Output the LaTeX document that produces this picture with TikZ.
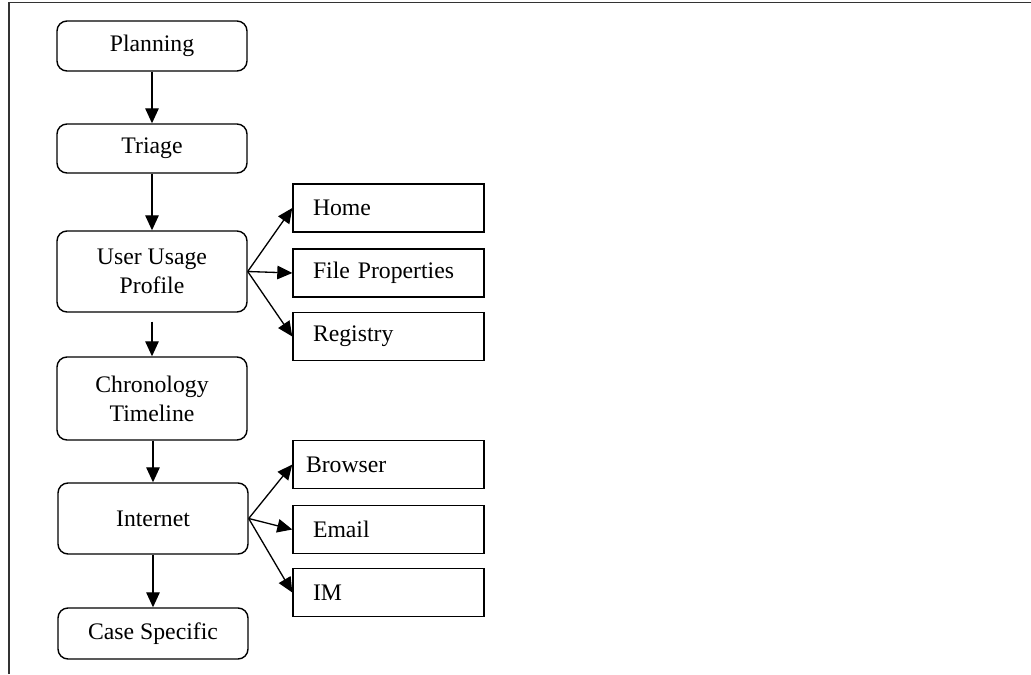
\documentclass[tikz,border=0pt]{standalone}
\usepackage{fontspec}
\setmainfont{Liberation Serif}
\usepackage{tikz}
\usetikzlibrary{arrows.meta, positioning}

\begin{document}
\begin{tikzpicture}[
    stage/.style={draw, line width=0.8pt, rounded corners=0.2cm, align=center,
      minimum width=3.8cm, inner sep=0pt},
    leaf/.style={draw, line width=0.8pt, align=left, text width=3.02cm,
      inner xsep=0.4cm, inner ysep=0pt, minimum height=0.96cm},
    flow/.style={-{Triangle[length=0.3cm,width=0.27cm]}, line width=0.75pt},
    every node/.style={font=\fontsize{13.5pt}{16.5pt}\selectfont}
  ]
  \useasboundingbox (0,0) rectangle (20.62,-13.48);

  % frame
  \draw[line width=0.9pt, black!80] (0.18,-13.48) -- (0.18,-0.05) -- (20.62,-0.05);

  % main stages
  \node[stage, minimum height=1.0cm]  (plan)   at (3.04,-0.92)  {Planning};
  \node[stage, minimum height=0.98cm] (triage) at (3.04,-2.97)  {Triage};
  \node[stage, minimum height=1.62cm] (usage)  at (3.04,-5.43)  {User Usage\\Profile};
  \node[stage, minimum height=1.66cm] (chrono) at (3.04,-7.97)  {Chronology\\Timeline};
  \node[stage, minimum height=1.42cm] (inet)   at (3.06,-10.37) {Internet};
  \node[stage, minimum height=1.02cm] (case)   at (3.06,-12.67) {Case Specific};

  % usage profile sources
  \node[leaf] (home)  at (7.77,-4.16) {Home};
  \node[leaf] (props) at (7.77,-5.46) {File Properties};
  \node[leaf] (reg)   at (7.77,-6.73) {Registry};

  % internet sources
  \node[leaf] (browser) at (7.77,-9.29)  {\hspace*{-0.14cm}Browser};
  \node[leaf] (email)   at (7.77,-10.59) {Email};
  \node[leaf] (im)      at (7.77,-11.85) {IM};

  % flow
  \draw[flow] (plan) -- (triage);
  \draw[flow] (triage) -- (usage);
  \draw[flow, shorten <=0.18cm] (usage) -- (chrono);
  \draw[flow] (chrono.south -| inet.north) -- (inet);
  \draw[flow] (inet) -- (case);

  \draw[flow] (usage.east) -- (home.west);
  \draw[flow] (usage.east) -- (props.west);
  \draw[flow] (usage.east) -- (reg.west);

  \draw[flow] (inet.east) -- (browser.west);
  \draw[flow] (inet.east) -- (email.west);
  \draw[flow] (inet.east) -- (im.west);
\end{tikzpicture}
\end{document}
